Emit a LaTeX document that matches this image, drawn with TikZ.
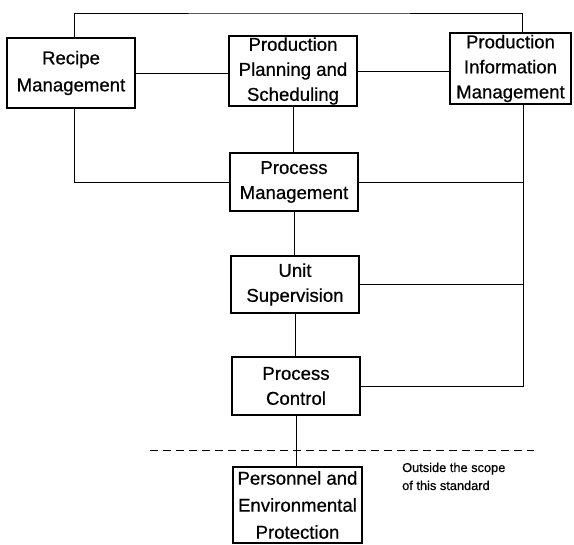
\documentclass[tikz,border=0pt]{standalone}
\usepackage{fontspec}
\setmainfont{Liberation Sans}
\newfontfamily\boxfont[FakeBold=0.6]{Liberation Sans}
\newfontfamily\notefont[FakeBold=0.4]{Liberation Sans}
\begin{document}
\begin{tikzpicture}[x=1pt,y=-1pt,
  box/.style={draw,line width=1.6pt,minimum width=128pt,inner sep=0pt,align=center,
    font=\boxfont\fontsize{18.6}{25}\selectfont},
  conn/.style={line width=0.9pt},
  note/.style={align=left,anchor=base west,inner sep=0pt,font=\notefont\fontsize{12.8}{18}\selectfont}]
\useasboundingbox (0,0) rectangle (574,545);
\fill[white] (0,0) rectangle (574,545);
% boxes
\node[box,minimum height=70pt,font=\boxfont\fontsize{18.6}{27}\selectfont] (rm)  at (71,73)    {Recipe\\Management};
\node[box,minimum height=70pt] (pps) at (293,71)   {Production\\Planning and\\Scheduling};
\node[box,minimum height=71pt,minimum width=121pt] (pim) at (510.5,68.5) {Production\\Information\\Management};
\node[box,minimum height=58pt] (pm)  at (294,182)  {Process\\Management};
\node[box,minimum height=57pt] (us)  at (295,284.5) {Unit\\Supervision};
\node[box,minimum height=58pt] (pc)  at (296,386)  {Process\\Control};
\node[box,minimum height=76pt,minimum width=129pt,font=\boxfont\fontsize{18.6}{27}\selectfont] (pep) at (297.5,505) {Personnel and\\Environmental\\Protection};
% helper coordinates
\coordinate (top) at (300,13);
\coordinate (bus) at ([xshift=12.5pt]pim.south);
\coordinate (dl) at (150,450);
\coordinate (dr) at (534,450);
% connectors
\draw[conn] ([xshift=3pt]rm.north) |- (top) -| ([xshift=11.5pt]pim.north);
\draw[conn] (rm.east) -- (rm.east -| pps.west);
\draw[conn] (pps.east) -- (pps.east -| pim.west);
\draw[conn] (pps.south) -- (pps.south |- pm.north);
\draw[conn] ([xshift=3pt]rm.south) |- (pm.west);
\draw[conn] (bus) |- (pc.east);
\draw[conn] (pm.east) -- (pm.east -| bus);
\draw[conn] (us.east) -- (us.east -| bus);
\draw[conn] (pm.south) -- (pm.south |- us.north);
\draw[conn] (us.south) -- (us.south |- pc.north);
\draw[conn] (pc.south) -- (pc.south |- pep.north);
\draw[conn,dash pattern=on 8pt off 5pt] (dl) -- (dr);
\node[note] (out) at (402,490) {Outside the scope\\of this standard};
\end{tikzpicture}
\end{document}
